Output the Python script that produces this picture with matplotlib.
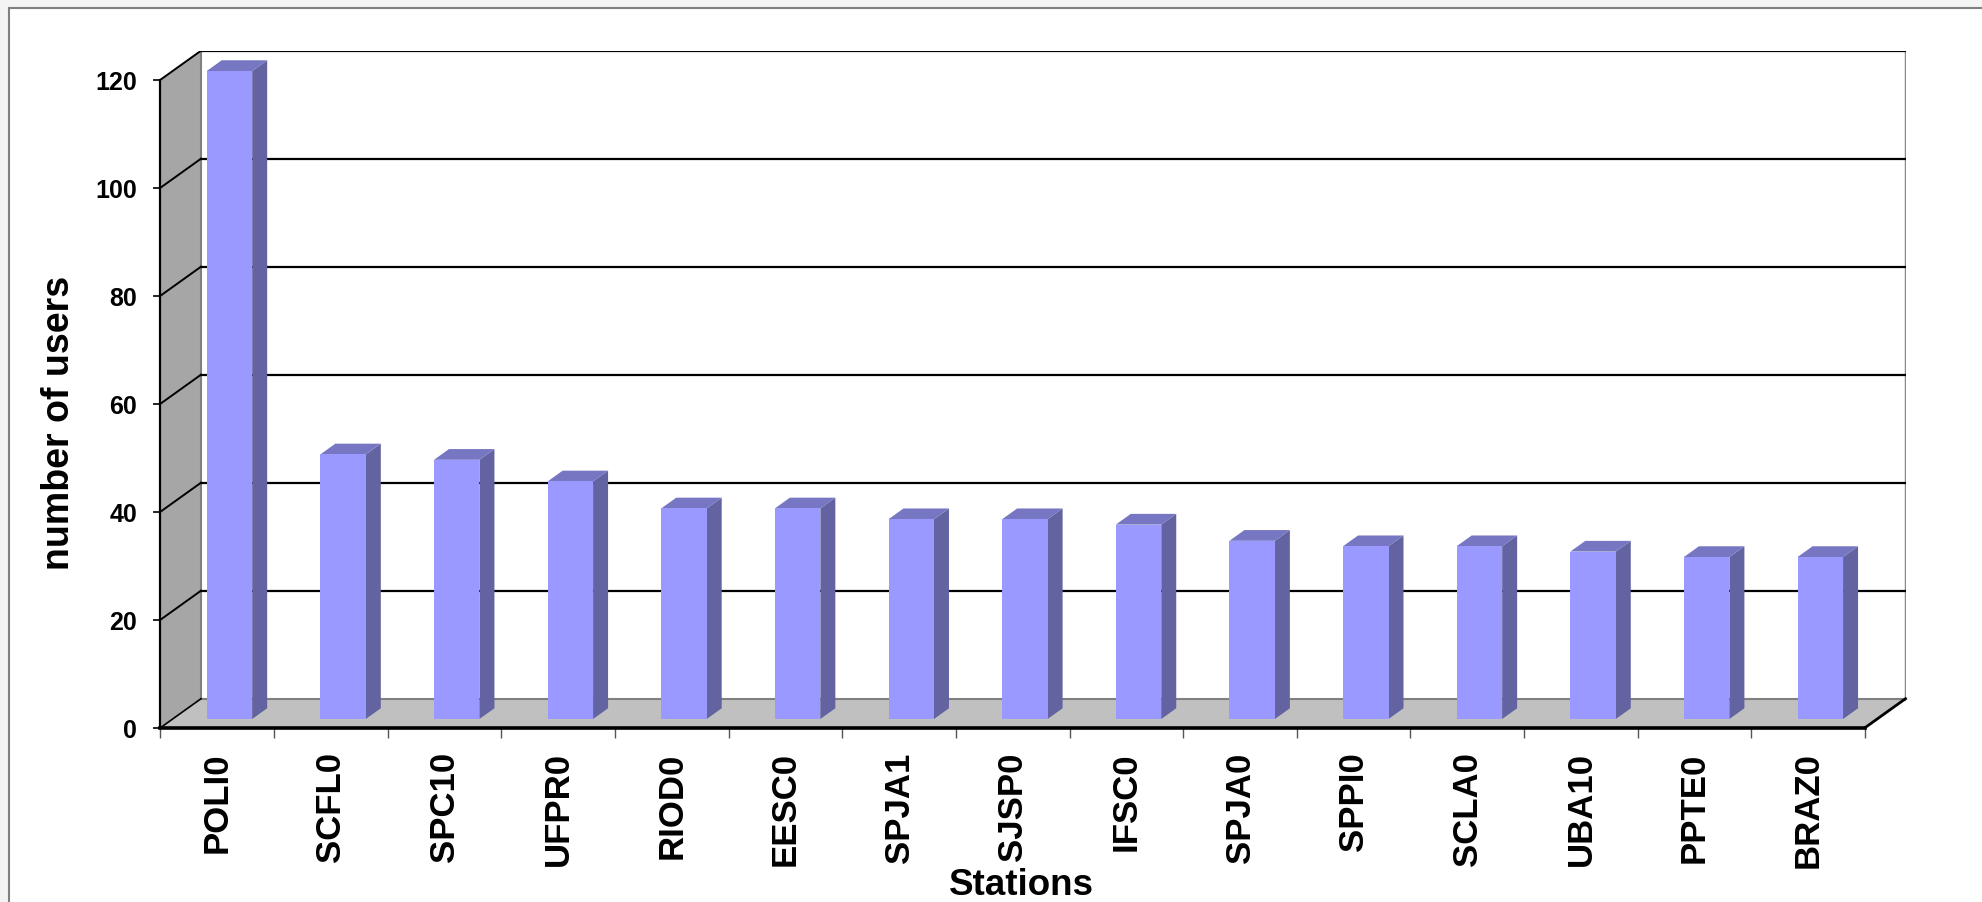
import matplotlib
matplotlib.use("Agg")
import matplotlib.pyplot as plt
from matplotlib.patches import Polygon, Rectangle

stations = ["POLI0", "SCFL0", "SPC10", "UFPR0", "RIOD0", "EESC0", "SPJA1", "SJSP0",
            "IFSC0", "SPJA0", "SPPI0", "SCLA0", "UBA10", "PPTE0", "BRAZ0"]
users = [120, 49, 48, 44, 39, 39, 37, 37, 36, 33, 32, 32, 31, 30, 30]
yticks = [0, 20, 40, 60, 80, 100, 120]
ylabel = "number of users"
xlabel = "Stations"

W, H = 1983, 903
fig = plt.figure(figsize=(W / 100, H / 100), dpi=100)
fig.patch.set_facecolor("#F4F4F4")
# outer chart frame
frame = Rectangle((9 / W, -0.1), 1.2, 1.1 - 9 / H, transform=fig.transFigure,
                  facecolor="white", edgecolor="#808080", lw=1.5, zorder=-10)
fig.patches.append(frame)

FONT = "Liberation Sans"
n = len(stations)
ymax = 120
px_per_cat = (1865 - 160.5) / n
px_per_val = (728.7 - 80.7) / ymax
DX = 40.5 / px_per_cat      # depth offset in category units
DY = 29.0 / px_per_val      # depth offset in value units
d0, d1 = 0.30, 0.67         # bar depth span
bw = 0.40                   # bar width

xr = n + DX
yr = ymax + DY
ax = fig.add_axes([160.5 / W, (H - 728.7) / H, xr * px_per_cat / W, yr * px_per_val / H])
ax.set_zorder(5)
ax.set_xlim(0, xr)
ax.set_ylim(0, yr)
ax.set_facecolor("none")
for s in ["top", "right"]:
    ax.spines[s].set_visible(False)
ax.spines["left"].set_bounds(0, ymax)
ax.spines["left"].set_linewidth(1.6)
ax.spines["bottom"].set_bounds(0, n)
ax.spines["bottom"].set_linewidth(2.6)
ax.spines["left"].set_zorder(6)
ax.spines["bottom"].set_zorder(6)

# back wall
ax.add_patch(Rectangle((DX, DY), n, ymax, facecolor="white", edgecolor="none", zorder=1))
# left wall
ax.add_patch(Polygon([(0, 0), (0, ymax), (DX, ymax + DY), (DX, DY)], closed=True,
                     facecolor="#A6A6A6", edgecolor="none", zorder=1))
# floor
ax.add_patch(Polygon([(0, 0), (n, 0), (n + DX, DY), (DX, DY)], closed=True,
                     facecolor="#C0C0C0", edgecolor="none", zorder=1))
# wall edges
ax.plot([DX, DX], [DY, ymax + DY], color="#808080", lw=1.5, zorder=2)
ax.plot([DX, n + DX], [DY, DY], color="#808080", lw=1.5, zorder=2)
ax.plot([n + DX, n + DX], [DY, ymax + DY], color="#8C8C8C", lw=2.5, zorder=2)
ax.plot([0, DX], [0, DY], color="black", lw=1.2, zorder=2)
ax.plot([n, n + DX], [0, DY], color="black", lw=2.0, zorder=6, clip_on=False)
# gridlines
for v in yticks[1:]:
    ax.plot([DX, n + DX], [v + DY, v + DY], color="black", lw=1.6, zorder=2)
    ax.plot([0, DX], [v, v + DY], color="black", lw=1.4, zorder=2)

# bars
front_c, side_c, top_c = "#9999FF", "#6363A2", "#7676C2"
for i, v in enumerate(users):
    x0 = i + 0.5 - bw / 2
    x1 = i + 0.5 + bw / 2
    ax0, ay0 = d0 * DX, d0 * DY
    ax1, ay1 = d1 * DX, d1 * DY
    ax.add_patch(Polygon([(x1 + ax0, ay0), (x1 + ax1, ay1), (x1 + ax1, v + ay1), (x1 + ax0, v + ay0)],
                         closed=True, facecolor=side_c, edgecolor="none", zorder=3))
    ax.add_patch(Polygon([(x0 + ax0, v + ay0), (x1 + ax0, v + ay0), (x1 + ax1, v + ay1), (x0 + ax1, v + ay1)],
                         closed=True, facecolor=top_c, edgecolor="none", zorder=3))
    ax.add_patch(Rectangle((x0 + ax0, ay0), bw, v, facecolor=front_c, edgecolor="none", zorder=4))

# y axis ticks
ax.set_yticks(yticks)
ax.set_yticklabels([str(t) for t in yticks], fontfamily=FONT, fontweight="bold", fontsize=18)
ax.tick_params(axis="y", length=5, width=1.2, pad=12, colors="black")

# x axis ticks: major at category edges, labels at centers
ax.set_xticks(range(n + 1))
ax.set_xticklabels([""] * (n + 1))
ax.tick_params(axis="x", which="major", length=7, width=1.0, color="#555555")
ax.set_xticks([i + 0.5 for i in range(n)], minor=True)
ax.set_xticklabels(stations, minor=True, rotation=90, fontfamily=FONT, fontweight="bold",
                   fontsize=25, va="top", ha="center")
ax.tick_params(axis="x", which="minor", length=0, pad=17)

fig.text(59 / W, 1 - 423 / H, ylabel, rotation=90, ha="center", va="center",
         fontfamily=FONT, fontweight="bold", fontsize=27)
fig.text(1021.5 / W, 1 - 895 / H, xlabel, ha="center", va="baseline",
         fontfamily=FONT, fontweight="bold", fontsize=26.5)

fig.savefig("out.png", dpi=100, facecolor=fig.get_facecolor())
